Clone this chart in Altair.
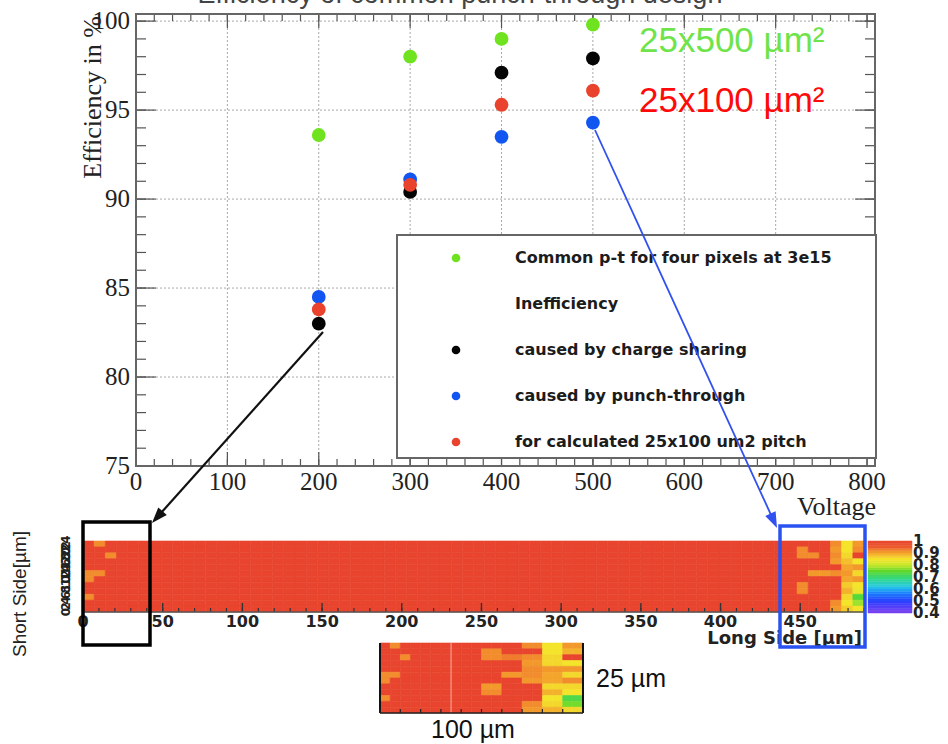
import altair as alt
import numpy as np
import pandas as pd

# ---------------- efficiency versus bias voltage ----------------
VOLTAGES = [200, 300, 400, 500]
EFF_COMMON = [93.6, 98.0, 99.0, 99.8]
EFF_CHARGE = [83.0, 90.4, 97.1, 97.9]
EFF_PUNCH = [84.5, 91.1, 93.5, 94.3]
EFF_CALC = [83.8, 90.8, 95.3, 96.1]

SERIES_LABELS = [
    "Common p-t for four pixels at 3e15",
    "caused by charge sharing",
    "caused by punch-through",
    "for calculated 25x100 um2 pitch",
]
SERIES_COLORS = ["#6fe31f", "#050505", "#1256f2", "#e9432e"]

LEGEND_LINES = [
    "Common p-t for four pixels at 3e15",
    "Inefficiency",
    "caused by charge sharing",
    "caused by punch-through",
    "for calculated 25x100 um2 pitch",
]
LEGEND_COLORS = ["#6fe31f", "", "#050505", "#1256f2", "#e9432e"]

MAIN_X_LABELS = [0, 100, 200, 300, 400, 500, 600, 700, 800]
MAIN_Y_LABELS = [75, 80, 85, 90, 95, 100]
GRID_X = [100, 200, 300, 400, 500, 600, 700]
GRID_Y = [80, 85, 90, 95, 100]

# ---------------- in-pixel efficiency maps ----------------
# long-side bins of 7 um, 12 short-side rows counted from the top edge
STRIP_NCOLS = 70
STRIP_BIN = 7
MAP_NROWS = 12
# (first column, last column, row from top, efficiency)
STRIP_CELLS = [
    (1, 1, 0, 0.92), (2, 2, 2, 0.92), (0, 1, 5, 0.92), (0, 0, 6, 0.92), (0, 0, 9, 0.92),
    (64, 64, 1, 0.92), (64, 65, 2, 0.92), (64, 64, 7, 0.92), (64, 64, 8, 0.92),
    (65, 66, 5, 0.91),
    (67, 67, 0, 0.92), (67, 67, 1, 0.91), (67, 67, 2, 0.92), (67, 67, 3, 0.91),
    (67, 67, 5, 0.92), (67, 67, 10, 0.92), (67, 67, 11, 0.91),
    (68, 68, 0, 0.85), (68, 68, 1, 0.85), (68, 68, 2, 0.86), (68, 68, 3, 0.88),
    (68, 68, 4, 0.90), (68, 68, 5, 0.91), (68, 68, 6, 0.90), (68, 68, 7, 0.87),
    (68, 68, 8, 0.89), (68, 68, 9, 0.86), (68, 68, 10, 0.85), (68, 68, 11, 0.87),
    (69, 69, 0, 0.91), (69, 69, 1, 0.92), (69, 69, 3, 0.85), (69, 69, 4, 0.91),
    (69, 69, 5, 0.86), (69, 69, 6, 0.91), (69, 69, 7, 0.85), (69, 69, 8, 0.84),
    (69, 69, 9, 0.74), (69, 69, 10, 0.78), (69, 69, 11, 0.85),
]

# zoom of one 100 um x 25 um pixel: 5 um bins
INSET_NCOLS = 20
INSET_BIN = 5
INSET_CELLS = [
    (1, 1, 0, 0.92), (2, 2, 2, 0.92), (0, 1, 5, 0.92), (0, 0, 6, 0.92), (0, 0, 9, 0.92),
    (10, 11, 1, 0.92), (10, 11, 2, 0.92), (10, 11, 7, 0.91), (10, 11, 8, 0.92),
    (12, 13, 2, 0.93), (12, 13, 5, 0.91),
    (14, 15, 0, 0.92), (14, 15, 2, 0.92), (14, 15, 3, 0.91), (14, 15, 4, 0.92),
    (14, 15, 5, 0.92), (14, 15, 6, 0.91), (14, 15, 10, 0.92), (14, 15, 11, 0.91),
    (16, 17, 0, 0.85), (16, 17, 1, 0.85), (16, 17, 2, 0.86), (16, 17, 3, 0.86),
    (16, 17, 4, 0.91), (16, 17, 5, 0.90), (16, 17, 6, 0.90), (16, 17, 7, 0.86),
    (16, 17, 8, 0.89), (16, 17, 9, 0.85), (16, 17, 10, 0.86), (16, 17, 11, 0.89),
    (18, 19, 0, 0.91), (18, 19, 1, 0.89), (18, 19, 3, 0.85), (18, 19, 4, 0.91),
    (18, 19, 5, 0.86), (18, 19, 6, 0.92), (18, 19, 7, 0.86), (18, 19, 8, 0.85),
    (18, 19, 9, 0.73), (18, 19, 10, 0.76), (18, 19, 11, 0.86),
]

STRIP_X_LABELS = [0, 50, 100, 150, 200, 250, 300, 350, 400, 450]
STRIP_Y_LABELS = [0, 2, 4, 6, 8, 10, 12, 14, 16, 18, 20, 22, 24]
PALETTE_LABELS = [1.0, 0.9, 0.8, 0.7, 0.6, 0.5, 0.4]
PALETTE_TEXT = ["1", "0.9", "0.8", "0.7", "0.6", "0.5", "0.4"]

# rainbow palette (efficiency 0.4 ... 1)
HEAT_STOPS = [0.40, 0.50, 0.56, 0.62, 0.68, 0.75, 0.80, 0.85, 0.885, 0.92, 0.95, 1.00]
HEAT_COLORS = ["#8040f0", "#2a40ff", "#1a78ff", "#28c8e8", "#30d890", "#5cd82a",
               "#c8e82e", "#f4e42a", "#f4b82c", "#f28c2c", "#ec5c2e", "#e8442e"]

# ---------------- scales ----------------
X_MAIN = alt.Scale(domain=[0, 808.7], range=[136, 875], nice=False, zero=False)
Y_MAIN = alt.Scale(domain=[75, 100.4], range=[466, 14], nice=False, zero=False)
Y_LEG = alt.Scale(domain=[0, 4], range=[258, 442], nice=False)
X_STRIP = alt.Scale(domain=[0, 490], range=[83, 864], nice=False)
Y_STRIP = alt.Scale(domain=[0, 25], range=[612, 541], nice=False)
X_INSET = alt.Scale(domain=[0, 100], range=[380, 583], nice=False)
Y_INSET = alt.Scale(domain=[0, 25], range=[713, 643], nice=False)
Y_PAL = alt.Scale(domain=[0.4, 1.0], range=[613, 541], nice=False, zero=False)
HEAT = alt.Scale(domain=HEAT_STOPS, range=HEAT_COLORS, interpolate="rgb")

SERIF = "Liberation Serif"
SANS = "Liberation Sans"
BOLD = "DejaVu Sans"

one = pd.DataFrame({"k": [0]})


def q(field, scale):
    return alt.X(field, type="quantitative", scale=scale, axis=None)


def qy(field, scale):
    return alt.Y(field, type="quantitative", scale=scale, axis=None)


layers = []

# ---- main plot: grid ----
gx = pd.DataFrame({"v": GRID_X, "lo": 75.0, "hi": 100.4})
layers.append(alt.Chart(gx).mark_rule(color="#a8a8a8", strokeDash=[2, 2], strokeWidth=1).encode(
    x=q("v", X_MAIN), y=qy("lo", Y_MAIN), y2="hi"))
gy = pd.DataFrame({"v": GRID_Y, "lo": 0.0, "hi": 808.7})
layers.append(alt.Chart(gy).mark_rule(color="#a8a8a8", strokeDash=[2, 2], strokeWidth=1).encode(
    y=qy("v", Y_MAIN), x=q("lo", X_MAIN), x2="hi"))

# ---- main plot: ticks on all four sides, pointing inward ----
x_major = pd.DataFrame({"v": MAIN_X_LABELS, "b": 75.0, "t": 100.4})
x_minor = pd.DataFrame({"v": list(range(0, 801, 20)), "b": 75.0, "t": 100.4})
y_major = pd.DataFrame({"v": MAIN_Y_LABELS, "l": 0.0, "r": 808.7})
y_minor = pd.DataFrame({"v": list(range(75, 101)), "l": 0.0, "r": 808.7})
for df, ln in [(x_major, 14), (x_minor, 7)]:
    layers.append(alt.Chart(df).mark_rule(color="#555", strokeWidth=1.2, y2Offset=-ln).encode(
        x=q("v", X_MAIN), y=qy("b", Y_MAIN), y2="b"))
    layers.append(alt.Chart(df).mark_rule(color="#555", strokeWidth=1.2, y2Offset=ln).encode(
        x=q("v", X_MAIN), y=qy("t", Y_MAIN), y2="t"))
for df, ln in [(y_major, 20), (y_minor, 10)]:
    layers.append(alt.Chart(df).mark_rule(color="#555", strokeWidth=1.2, x2Offset=ln).encode(
        y=qy("v", Y_MAIN), x=q("l", X_MAIN), x2="l"))
    layers.append(alt.Chart(df).mark_rule(color="#555", strokeWidth=1.2, x2Offset=-ln).encode(
        y=qy("v", Y_MAIN), x=q("r", X_MAIN), x2="r"))

# ---- main plot: frame ----
frame = pd.DataFrame({"x0": [0.0], "x1": [808.7], "y0": [75.0], "y1": [100.4]})
layers.append(alt.Chart(frame).mark_rect(fillOpacity=0, stroke="#666", strokeWidth=2).encode(
    x=q("x0", X_MAIN), x2="x1", y=qy("y0", Y_MAIN), y2="y1"))

# ---- axis labels and titles ----
layers.append(alt.Chart(pd.DataFrame({"v": MAIN_X_LABELS})).mark_text(
    font=SERIF, fontSize=25, color="#222", align="center", baseline="middle").encode(
    x=q("v", X_MAIN), y=alt.value(482), text=alt.Text("v:Q")))
layers.append(alt.Chart(pd.DataFrame({"v": MAIN_Y_LABELS})).mark_text(
    font=SERIF, fontSize=25, color="#222", align="right", baseline="middle", dx=-3).encode(
    y=qy("v", Y_MAIN), x=alt.value(133), text=alt.Text("v:Q")))
layers.append(alt.Chart(one).mark_text(
    font=SERIF, fontSize=26, color="#222", align="right", baseline="middle", angle=270,
    text="Efficiency in %").encode(x=alt.value(93), y=alt.value(16)))
layers.append(alt.Chart(one).mark_text(
    font=SERIF, fontSize=26, color="#222", align="right", baseline="alphabetic",
    text="Voltage").encode(x=alt.value(876), y=alt.value(515)))
layers.append(alt.Chart(one).mark_text(
    font=SANS, fontSize=27, color="#444", align="center", baseline="alphabetic",
    text="Efficiency of common punch-through design").encode(x=alt.value(460), y=alt.value(3)))

# ---- legend ----
layers.append(alt.Chart(one).mark_rect(fill="white", stroke="#666", strokeWidth=2).encode(
    x=alt.value(397), x2=alt.value(876), y=alt.value(235), y2=alt.value(458)))
leg = pd.DataFrame({"row": range(len(LEGEND_LINES)), "label": LEGEND_LINES, "c": LEGEND_COLORS})
layers.append(alt.Chart(leg[leg["c"] != ""]).mark_circle(size=75, opacity=1).encode(
    x=alt.value(456), y=qy("row", Y_LEG), color=alt.Color("c:N", scale=None, legend=None)))
layers.append(alt.Chart(leg).mark_text(
    font=BOLD, fontWeight="bold", fontSize=16, color="#1c1c1c", align="left", baseline="middle").encode(
    x=alt.value(515), y=qy("row", Y_LEG), text="label:N"))

# ---- data points ----
pts = pd.concat([
    pd.DataFrame({"V": VOLTAGES, "eff": vals, "c": col})
    for vals, col in zip([EFF_COMMON, EFF_CHARGE, EFF_PUNCH, EFF_CALC], SERIES_COLORS)
], ignore_index=True)
layers.append(alt.Chart(pts).mark_circle(size=190, opacity=1).encode(
    x=q("V", X_MAIN), y=qy("eff", Y_MAIN), color=alt.Color("c:N", scale=None, legend=None)))

layers.append(alt.Chart(one).mark_text(
    font=SANS, fontSize=35, color="#6ee44a", align="left", baseline="alphabetic",
    text="25x500 µm²").encode(x=alt.value(639), y=alt.value(52)))
layers.append(alt.Chart(one).mark_text(
    font=SANS, fontSize=35, color="#ff0a0a", align="left", baseline="alphabetic",
    text="25x100 µm²").encode(x=alt.value(639), y=alt.value(112)))


# ---------------- efficiency maps ----------------
def build_map(ncols, nrows, binw, height, cells):
    eff = np.ones((nrows, ncols))
    for c0, c1, r, v in cells:
        eff[r, c0:c1 + 1] = v
    rows = []
    rh = height / nrows
    for r in range(nrows):
        for c in range(ncols):
            rows.append({"x0": c * binw, "x1": (c + 1) * binw,
                         "y0": height - (r + 1) * rh, "y1": height - r * rh, "eff": eff[r, c]})
    return pd.DataFrame(rows)


strip = build_map(STRIP_NCOLS, MAP_NROWS, STRIP_BIN, 25.0, STRIP_CELLS)
layers.append(alt.Chart(strip).mark_rect(strokeWidth=0.6).encode(
    x=q("x0", X_STRIP), x2="x1", y=qy("y0", Y_STRIP), y2="y1",
    color=alt.Color("eff:Q", scale=HEAT, legend=None),
    stroke=alt.Stroke("eff:Q", scale=HEAT, legend=None)))

# strip axes
sx_minor = pd.DataFrame({"v": list(range(0, 491, 10)), "b": 0.0})
sx_major = pd.DataFrame({"v": STRIP_X_LABELS, "b": 0.0})
layers.append(alt.Chart(sx_minor).mark_rule(color="#333", strokeWidth=1.2, y2Offset=-4).encode(
    x=q("v", X_STRIP), y=qy("b", Y_STRIP), y2="b"))
layers.append(alt.Chart(sx_major).mark_rule(color="#333", strokeWidth=1.4, y2Offset=-9).encode(
    x=q("v", X_STRIP), y=qy("b", Y_STRIP), y2="b"))
layers.append(alt.Chart(pd.DataFrame({"a": [0.0], "b": [490.0], "y": [0.0]})).mark_rule(
    color="#555", strokeWidth=1.5).encode(x=q("a", X_STRIP), x2="b", y=qy("y", Y_STRIP)))
layers.append(alt.Chart(sx_major).mark_text(
    font=BOLD, fontWeight="bold", fontSize=16, color="#222", align="center", baseline="middle").encode(
    x=q("v", X_STRIP), y=alt.value(622), text=alt.Text("v:Q")))
layers.append(alt.Chart(one).mark_text(
    font=BOLD, fontWeight="bold", fontSize=18, color="#222", align="right", baseline="middle",
    text="Long Side [µm]").encode(x=alt.value(862), y=alt.value(639)))
layers.append(alt.Chart(pd.DataFrame({"v": STRIP_Y_LABELS})).mark_text(
    font=BOLD, fontWeight="bold", fontSize=12, color="#222", align="center", baseline="middle",
    angle=270).encode(y=qy("v", Y_STRIP), x=alt.value(66), text=alt.Text("v:Q")))
layers.append(alt.Chart(one).mark_text(
    font=SANS, fontSize=19, color="#222", align="center", baseline="middle", angle=270,
    text="Short Side[µm]").encode(x=alt.value(20), y=alt.value(594)))

# palette bar
pal_levels = [round(0.40 + 0.02 * i, 2) for i in range(30)]
pal = pd.DataFrame({"lo": pal_levels, "hi": [v + 0.02 for v in pal_levels],
                    "mid": [v + 0.01 for v in pal_levels]})
layers.append(alt.Chart(pal).mark_rect(strokeWidth=0.5).encode(
    x=alt.value(868), x2=alt.value(912), y=qy("lo", Y_PAL), y2="hi",
    color=alt.Color("mid:Q", scale=HEAT, legend=None),
    stroke=alt.Stroke("mid:Q", scale=HEAT, legend=None)))
layers.append(alt.Chart(pd.DataFrame({"v": PALETTE_LABELS, "t": PALETTE_TEXT})).mark_text(
    font=BOLD, fontWeight="bold", fontSize=15, color="#222", align="left", baseline="middle").encode(
    y=qy("v", Y_PAL), x=alt.value(913), text="t:N"))

# inset map
inset = build_map(INSET_NCOLS, MAP_NROWS, INSET_BIN, 25.0, INSET_CELLS)
layers.append(alt.Chart(inset).mark_rect(strokeWidth=0.6).encode(
    x=q("x0", X_INSET), x2="x1", y=qy("y0", Y_INSET), y2="y1",
    color=alt.Color("eff:Q", scale=HEAT, legend=None),
    stroke=alt.Stroke("eff:Q", scale=HEAT, legend=None)))
layers.append(alt.Chart(pd.DataFrame({"v": [35.0], "a": [0.0], "b": [25.0]})).mark_rule(
    color="#f6b0a0", strokeWidth=1).encode(x=q("v", X_INSET), y=qy("a", Y_INSET), y2="b"))
layers.append(alt.Chart(pd.DataFrame({"v": [0.0, 100.0], "a": [0.0, 0.0], "b": [25.0, 25.0]})).mark_rule(
    color="#111", strokeWidth=2).encode(x=q("v", X_INSET), y=qy("a", Y_INSET), y2="b"))
layers.append(alt.Chart(pd.DataFrame({"a": [0.0], "b": [100.0], "y": [0.0]})).mark_rule(
    color="#222", strokeWidth=1.5).encode(x=q("a", X_INSET), x2="b", y=qy("y", Y_INSET)))
layers.append(alt.Chart(pd.DataFrame({"v": list(range(0, 101, 10)), "b": 0.0})).mark_rule(
    color="#222", strokeWidth=1.2, y2Offset=-4).encode(x=q("v", X_INSET), y=qy("b", Y_INSET), y2="b"))
layers.append(alt.Chart(one).mark_text(
    font=SANS, fontSize=25, color="#111", align="left", baseline="alphabetic",
    text="25 µm").encode(x=alt.value(596), y=alt.value(687)))
layers.append(alt.Chart(one).mark_text(
    font=SANS, fontSize=25, color="#111", align="left", baseline="alphabetic",
    text="100 µm").encode(x=alt.value(431), y=alt.value(738)))

# ---------------- pointers from the data points to the maps ----------------
layers.append(alt.Chart(one).mark_rect(fillOpacity=0, stroke="#000", strokeWidth=3.5).encode(
    x=alt.value(83), x2=alt.value(150), y=alt.value(522), y2=alt.value(645)))
layers.append(alt.Chart(one).mark_rect(fillOpacity=0, stroke="#2a52f0", strokeWidth=3.5).encode(
    x=alt.value(780), x2=alt.value(865), y=alt.value(526), y2=alt.value(647)))

ARROW_HEAD = "M0,0L0.36,1L-0.36,1Z"
for (x0, y0, x1, y1, col, w) in [(323, 332, 152, 523, "#111", 2.2), (595, 130, 777, 528, "#3050f0", 1.8)]:
    dx, dy = x1 - x0, y1 - y0
    L = (dx * dx + dy * dy) ** 0.5
    ex, ey = x1 - dx / L * 12, y1 - dy / L * 12
    ang = (np.degrees(np.arctan2(dx, -dy)) + 360) % 360
    layers.append(alt.Chart(one).mark_rule(color=col, strokeWidth=w).encode(
        x=alt.value(x0), y=alt.value(y0), x2=alt.value(ex), y2=alt.value(ey)))
    layers.append(alt.Chart(one).mark_point(
        shape=ARROW_HEAD, filled=True, size=1000, color=col, opacity=1, strokeWidth=0,
        angle=float(ang)).encode(x=alt.value(x1), y=alt.value(y1)))

chart = alt.layer(*layers).resolve_scale(
    x="independent", y="independent", color="independent", stroke="independent"
).properties(
    width=948, height=744, padding=0, autosize=alt.AutoSizeParams(type="none"),
    background="white",
).configure_view(stroke=None)

chart.save("out.html", embed_options={"renderer": "svg", "actions": False})
